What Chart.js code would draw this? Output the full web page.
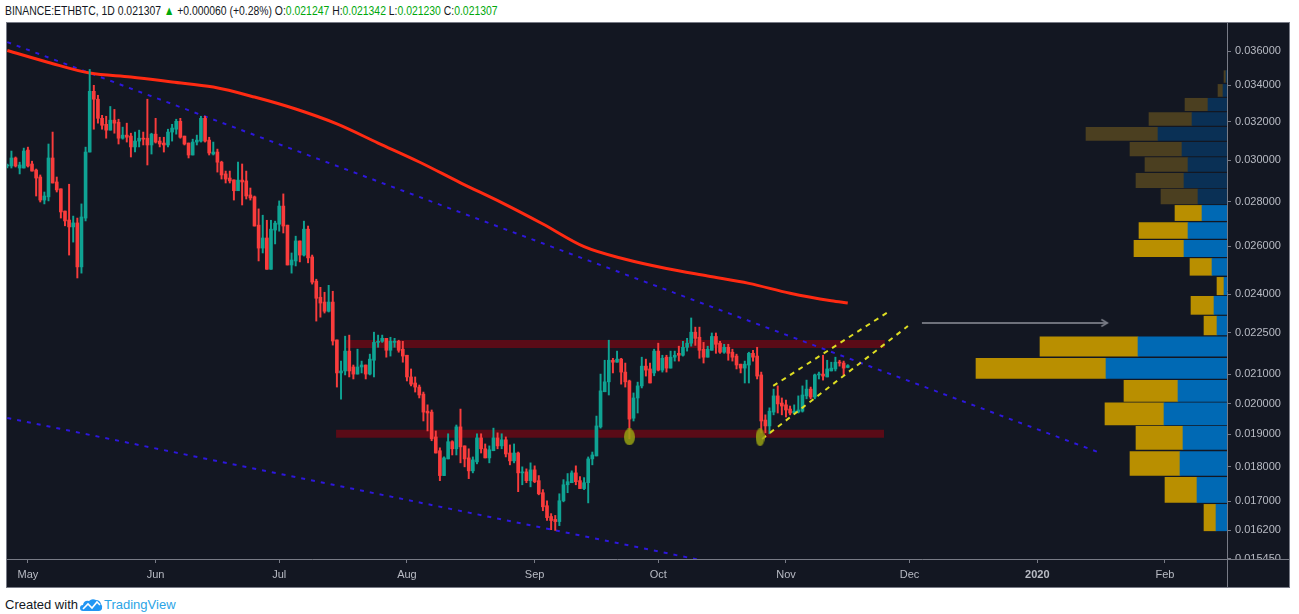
<!DOCTYPE html>
<html>
<head>
<meta charset="utf-8">
<title>BINANCE:ETHBTC 1D</title>
<script src="https://cdn.jsdelivr.net/npm/chart.js@4.4.1/dist/chart.umd.min.js"></script>
<style>
  body { margin: 0; width: 1299px; height: 614px; background: #fff; position: relative; overflow: hidden;
         font-family: "Liberation Sans", Arial, sans-serif; }
  #title { position: absolute; left: 5px; top: 2px; font-size: 13px; line-height: 17px; color: #131722; white-space: nowrap;
           transform: scaleX(0.8); transform-origin: 0 0; }
  #title .up { color: #00a80b; }
  #panel { position: absolute; left: 6px; top: 22px; width: 1284px; height: 566px; box-sizing: border-box;
           border: 1px solid #787b86; background: #131722; }
  #chart { position: absolute; left: 0; top: 0; }
  #corner { position: absolute; left: 1220px; top: 536px; width: 62px; height: 28px; box-sizing: border-box;
            border-top: 1px solid #787b86; border-left: 1px solid #787b86; background: #131722; }
  #footer { position: absolute; left: 5px; top: 596px; font-size: 13px; line-height: 17px; color: #131722; white-space: nowrap; }
  #footer svg { vertical-align: -3px; margin: 0 1px 0 2px; }
  #footer .tv { color: #2ba4e6; }
</style>
</head>
<body>
<div id="title">BINANCE:ETHBTC, 1D 0.021307 <span class="up">&#9650;</span> +0.000060 (+0.28%) O:<span class="up">0.021247</span> H:<span class="up">0.021342</span> L:<span class="up">0.021230</span> C:<span class="up">0.021307</span></div>
<div id="panel">
  <canvas id="chart" width="1282" height="564"></canvas>
  <div id="corner"></div>
</div>
<div id="footer">Created with<svg width="23" height="14" viewBox="0 0 23 14"><path d="M3 13 Q0 13 0 10 Q0 7 3 7 Q4 2 9 3 Q12 0 16 2 Q20 2 21 6 Q23 8 22 11 Q21 13 19 13 Z" fill="#2196f3"/><path d="M3 11 L8 6 L12 10 L17 4 L20 7" stroke="#fff" stroke-width="1.6" fill="none"/></svg><span class="tv">TradingView</span></div>
<script>
// daily candles, day 0 = 2019-04-26
const candleOpen = [
  .02972,.02972,.03012,.02962,.02962,.03052,.02982,.02952,.02918,.02808,
  .02823,.03012,.02894,.02861,.02757,.02716,.02685,.02703,.02512,.02725,
  .03042,.03366,.03322,.03218,.03186,.03155,.03208,.03197,.03113,.03129,
  .03124,.03068,.03098,.03113,.03113,.03078,.03134,.03098,.03088,.03078,
  .03145,.03160,.03202,.03124,.03088,.03027,.03093,.03098,.03218,.03103,
  .03032,.03042,.02991,.02933,.02913,.02904,.02852,.02903,.02899,.02832,
  .02823,.02693,.02592,.02636,.02502,.02671,.02697,.02780,.02693,.02520,
  .02537,.02623,.02562,.02675,.02554,.02453,.02388,.02369,.02333,.02369,
  .02224,.02105,.02112,.02183,.02126,.02101,.02126,.02133,.02101,.02150,
  .02215,.02219,.02230,.02186,.02215,.02219,.02190,.02168,.02091,.02070,
  .02056,.02032,.01975,.01972,.01892,.01849,.01774,.01824,.01877,.01855,
  .01924,.01864,.01827,.01788,.01815,.01889,.01855,.01827,.01849,.01889,
  .01864,.01883,.01842,.01818,.01842,.01782,.01785,.01759,.01791,.01759,
  .01724,.01687,.01657,.01649,.01643,.01701,.01747,.01753,.01782,.01759,
  .01736,.01753,.01824,.01833,.01924,.02040,.02074,.02150,.02143,.02154,
  .02108,.02077,.01952,.02019,.02060,.02129,.02119,.02105,.02183,.02115,
  .02161,.02122,.02161,.02175,.02168,.02197,.02212,.02253,.02234,.02190,
  .02161,.02186,.02237,.02212,.02179,.02197,.02179,.02165,.02136,.02122,
  .02133,.02175,.02165,.02098,.01946,.01927,.01972,.02026,.02002,.01996,
  .01982,.01969,.01972,.01975,.02026,.02049,.02022,.02098,.02101,.02091,
  .02112,.02119,.02143,.02140,.021247
];
const candleHigh = [
  .02982,.03047,.03017,.02991,.03062,.03067,.02996,.02957,.02928,.02846,
  .03083,.03145,.02918,.02861,.02757,.02883,.02734,.02725,.02790,.03067,
  .03491,.03400,.03344,.03234,.03229,.03282,.03266,.03213,.03171,.03192,
  .03139,.03145,.03155,.03145,.03322,.03139,.03218,.03118,.03118,.03160,
  .03186,.03213,.03218,.03124,.03088,.03108,.03129,.03229,.03229,.03118,
  .03093,.03057,.02996,.02947,.02947,.02904,.02991,.02982,.02947,.02865,
  .02827,.02767,.02738,.02715,.02715,.02711,.02804,.02837,.02693,.02571,
  .02644,.02623,.02711,.02689,.02562,.02461,.02428,.02408,.02436,.02412,
  .02224,.02147,.02238,.02242,.02133,.02190,.02147,.02133,.02172,.02253,
  .02242,.02242,.02230,.02234,.02230,.02223,.02219,.02168,.02119,.02091,
  .02063,.02039,.01996,.01979,.01911,.01858,.01830,.01902,.01880,.01930,
  .01982,.01864,.01855,.01830,.01902,.01902,.01870,.01864,.01920,.01905,
  .01902,.01892,.01867,.01870,.01845,.01800,.01794,.01812,.01803,.01774,
  .01733,.01701,.01665,.01660,.01721,.01762,.01780,.01788,.01803,.01771,
  .01768,.01830,.01845,.01959,.02101,.02150,.02223,.02157,.02183,.02157,
  .02140,.02080,.02036,.02073,.02161,.02154,.02140,.02190,.02212,.02168,
  .02168,.02183,.02183,.02201,.02219,.02230,.02307,.02272,.02272,.02215,
  .02201,.02250,.02250,.02219,.02208,.02208,.02190,.02172,.02136,.02147,
  .02179,.02186,.02197,.02108,.01963,.01986,.02049,.02060,.02019,.02012,
  .01992,.01996,.02026,.02060,.02080,.02056,.02101,.02108,.02168,.02150,
  .02143,.02161,.02150,.02147,.021342
];
const candleLow = [
  .02962,.02962,.02967,.02933,.02962,.02967,.02947,.02827,.02799,.02790,
  .02804,.02889,.02846,.02725,.02690,.02562,.02618,.02466,.02486,.02712,
  .03042,.03160,.03192,.03160,.03113,.03155,.03139,.03083,.03108,.03093,
  .03017,.03042,.03068,.03078,.02977,.03032,.03088,.03068,.03042,.03068,
  .03098,.03134,.03113,.03078,.03012,.03027,.03078,.03093,.03093,.03027,
  .03027,.02942,.02908,.02889,.02889,.02808,.02852,.02785,.02813,.02808,
  .02689,.02537,.02571,.02502,.02502,.02610,.02666,.02658,.02520,.02486,
  .02516,.02533,.02558,.02529,.02441,.02295,.02310,.02326,.02330,.02205,
  .02056,.02015,.02098,.02091,.02084,.02101,.02105,.02084,.02098,.02091,
  .02197,.02215,.02161,.02165,.02197,.02179,.02143,.02077,.02060,.02039,
  .02019,.01943,.01911,.01880,.01842,.01759,.01774,.01824,.01836,.01836,
  .01812,.01800,.01765,.01782,.01809,.01842,.01827,.01812,.01849,.01855,
  .01855,.01830,.01806,.01812,.01727,.01747,.01753,.01741,.01753,.01718,
  .01673,.01646,.01621,.01619,.01632,.01698,.01724,.01753,.01747,.01736,
  .01733,.01695,.01806,.01833,.01920,.02040,.02029,.02105,.02143,.02066,
  .02056,.01886,.01943,.01969,.02053,.02094,.02070,.02095,.02112,.02108,
  .02108,.02122,.02147,.02147,.02165,.02183,.02201,.02204,.02157,.02140,
  .02161,.02186,.02175,.02175,.02175,.02150,.02147,.02119,.02105,.02070,
  .02070,.02147,.02084,.01905,.01905,.01902,.01963,.01969,.01963,.01956,
  .01963,.01966,.01969,.01972,.02016,.02016,.02016,.02084,.02080,.02091,
  .02112,.02112,.02129,.02098,.021230
];
const candleClose = [
  .02977,.03012,.02972,.02977,.03047,.02972,.02947,.02913,.02808,.02827,
  .03012,.02889,.02856,.02753,.02712,.02685,.02703,.02512,.02730,.03042,
  .03366,.03322,.03218,.03181,.03155,.03208,.03192,.03113,.03129,.03118,
  .03068,.03098,.03113,.03108,.03078,.03134,.03093,.03083,.03078,.03145,
  .03166,.03202,.03118,.03083,.03027,.03093,.03103,.03218,.03098,.03037,
  .03042,.02991,.02928,.02908,.02899,.02852,.02903,.02894,.02827,.02818,
  .02689,.02592,.02636,.02502,.02675,.02702,.02780,.02689,.02520,.02541,
  .02623,.02562,.02675,.02550,.02449,.02384,.02365,.02333,.02369,.02220,
  .02105,.02112,.02183,.02112,.02101,.02126,.02133,.02101,.02154,.02215,
  .02219,.02230,.02186,.02219,.02219,.02186,.02165,.02091,.02066,.02056,
  .02029,.01972,.01969,.01886,.01842,.01774,.01827,.01877,.01855,.01924,
  .01861,.01824,.01788,.01821,.01889,.01855,.01827,.01852,.01889,.01864,
  .01883,.01839,.01818,.01842,.01782,.01785,.01759,.01791,.01756,.01721,
  .01684,.01654,.01646,.01643,.01701,.01747,.01756,.01782,.01756,.01736,
  .01753,.01824,.01836,.01927,.02043,.02074,.02150,.02143,.02154,.02108,
  .02074,.01949,.02019,.02060,.02129,.02115,.02070,.02183,.02115,.02157,
  .02122,.02161,.02168,.02168,.02197,.02212,.02253,.02230,.02186,.02161,
  .02190,.02237,.02208,.02179,.02197,.02175,.02161,.02133,.02122,.02136,
  .02175,.02161,.02094,.01943,.01927,.01975,.02026,.01999,.01992,.01979,
  .01969,.01975,.01979,.02029,.02049,.02022,.02098,.02101,.02094,.02119,
  .02122,.02143,.02140,.02122,.021307
];

// 200 day moving average, read every 10 days
const maDays   = [0, 10, 20, 30, 40, 50, 60, 70, 80, 90, 100, 110, 120, 130, 140, 150, 160, 170, 180, 190, 200, 204];
const maValues = [.03603,.03532,.03470,.03447,.03419,.03390,.03334,.03268,.03188,.03088,.02992,
                  .02890,.02796,.02698,.02598,.02544,.02505,.02474,.02444,.02404,.02374,.02365];

// drawings
const upperTrendDays = [0, 264.7], upperTrendPrices = [.03654, .01845];
const lowerTrendDays = [0, 168.1], lowerTrendPrices = [.019527, .015412];
const resistanceDays = [82, 213], resistancePrice = .02209;
const supportDays = [79.8, 212.8], supportPrice = .01902;
const channelTopDays = [185.9, 213.8], channelTopPrices = [.02060, .02330];
const channelBotDays = [183.2, 218.6], channelBotPrices = [.018856, .02276];
const touchDays = [151, 182.7], touchPrices = [.018919, .01891];
const arrowDays = [222, 267], arrowPrice = .02288;

// volume profile (low to high), rows are equal price bins
const profilePrices = [.01654,.01732,.01810,.01889,.01966,.02043,.02121,.02200,.02278,.02356,.02433,.02512,
                       .02590,.02669,.02748,.02825,.02901,.02980,.03057,.03135,.03214,.03293,.03371,.03450];
const upVolume   = [550,1500,2350,2200,3150,2450,6050,4450,500,650,150,750,
                    2150,1950,1250,1450,2150,1950,2250,3450,1750,950,200,50];
const downVolume = [600,1600,2500,2350,2950,2700,6500,4900,650,1150,350,1100,
                    2500,2450,1350,1850,2400,2150,2600,3600,2150,1150,250,100];
const binHalfWidth = 0.000389;
const valueAreaHigh = .0280;

// axes
const yTicks = [.01545, .0162, .017, .018, .019, .020, .021, .0225, .024, .026, .028, .030, .032, .034, .036];
const priceMin = 0.015437, priceMax = 0.037720;
const monthDays = [5, 36, 66, 97, 128, 158, 189, 219, 250, 281];
const monthLabels = ['May', 'Jun', 'Jul', 'Aug', 'Sep', 'Oct', 'Nov', 'Dec', '2020', 'Feb'];

const upColor = '#0fa393';
const downColor = '#f93c3c';
const axisColor = '#787b86';
const labelColor = '#b8bbc4';
const fontFamily = '"Liberation Sans", Arial, sans-serif';

const candleColor = c => candleClose[c.dataIndex] >= candleOpen[c.dataIndex] ? upColor : downColor;

function ellipseSprite(w, h) {
  const c = document.createElement('canvas');
  c.width = w; c.height = h;
  const g = c.getContext('2d');
  g.fillStyle = 'rgba(150, 160, 18, 0.85)';
  g.beginPath();
  g.ellipse(w / 2, h / 2, w / 2, h / 2, 0, 0, Math.PI * 2);
  g.fill();
  return c;
}

function arrowSprite() {
  const c = document.createElement('canvas');
  c.width = 16; c.height = 10;
  const g = c.getContext('2d');
  g.strokeStyle = '#7c7f89';
  g.lineWidth = 1.5;
  g.beginPath();
  g.moveTo(2, 1.5); g.lineTo(8, 5); g.lineTo(2, 8.5);
  g.stroke();
  return c;
}

const touchMarks = [ellipseSprite(11, 17), ellipseSprite(9, 18)];
const arrowHead = arrowSprite();

function hline(days, price) {
  return days.map(d => ({ x: d, y: price }));
}
function segment(days, prices) {
  return days.map((d, i) => ({ x: d, y: prices[i] }));
}

const lineBase = { type: 'line', pointRadius: 0, fill: false, xAxisID: 'x', yAxisID: 'y' };
const candleBase = { type: 'bar', xAxisID: 'x', yAxisID: 'y', grouped: false };
// one horizontal floating bar per profile row; its thickness is set from the price scale below
const profileBase = { type: 'bar', indexAxis: 'y', xAxisID: 'vol', yAxisID: 'y', grouped: false, barThickness: 10, order: 8 };

const profileSets = [];
profilePrices.forEach((p, row) => {
  const dim = p > valueAreaHigh;
  profileSets.push({ ...profileBase, profileRow: row, data: [{ y: p, x: [0, upVolume[row]] }],
                     backgroundColor: dim ? '#0a3055' : '#0069b4' });
  profileSets.push({ ...profileBase, profileRow: row, data: [{ y: p, x: [upVolume[row], upVolume[row] + downVolume[row]] }],
                     backgroundColor: dim ? '#4b3f20' : '#b98f00' });
});

const datasets = [
  { ...lineBase, data: hline(resistanceDays, resistancePrice), borderColor: '#5a0b17', borderWidth: 8, borderCapStyle: 'butt', order: 9 },
  { ...lineBase, data: hline(supportDays, supportPrice), borderColor: '#5a0b17', borderWidth: 8, borderCapStyle: 'butt', order: 9 },
  ...profileSets,
  { ...lineBase, data: segment(upperTrendDays, upperTrendPrices), borderColor: '#2d17dc', borderWidth: 2, borderDash: [4, 6], order: 7 },
  { ...lineBase, data: segment(lowerTrendDays, lowerTrendPrices), borderColor: '#2d17dc', borderWidth: 2, borderDash: [4, 6], order: 7 },
  { ...lineBase, data: segment(maDays, maValues), borderColor: '#ff2a12', borderWidth: 3, cubicInterpolationMode: 'monotone', order: 6 },
  {
    ...candleBase,
    data: candleLow.map((l, i) => ({ x: i, y: [l, candleHigh[i]] })),
    backgroundColor: candleColor, barThickness: 1.3, order: 5
  },
  {
    ...candleBase,
    data: candleOpen.map((o, i) => ({ x: i, y: [o, candleClose[i]] })),
    backgroundColor: candleColor, barThickness: 3, minBarLength: 1, order: 4
  },
  { ...lineBase, data: segment(channelTopDays, channelTopPrices), borderColor: '#dede22', borderWidth: 2, borderDash: [5, 5], order: 3 },
  { ...lineBase, data: segment(channelBotDays, channelBotPrices), borderColor: '#dede22', borderWidth: 2, borderDash: [5, 5], order: 3 },
  { ...lineBase, showLine: false, data: segment(touchDays, touchPrices), pointStyle: touchMarks, pointRadius: 6, order: 2 },
  {
    ...lineBase, data: hline(arrowDays, arrowPrice), borderColor: '#6e717b', borderWidth: 2,
    pointStyle: arrowHead, pointRadius: c => c.dataIndex === 1 ? 5 : 0, order: 1
  }
];

const chart = new Chart(document.getElementById('chart'), {
  type: 'bar',
  data: { datasets },
  options: {
    responsive: false,
    animation: false,
    events: [],
    layout: { padding: 0, autoPadding: false },
    plugins: { legend: { display: false }, tooltip: { enabled: false } },
    scales: {
      x: {
        type: 'linear', position: 'bottom', min: -0.073, max: 296.05, offset: false,
        grid: { drawOnChartArea: false, drawTicks: true, tickLength: 4, color: axisColor, offset: false },
        border: { display: true, color: axisColor },
        ticks: {
          autoSkip: false, maxRotation: 0, padding: 5, color: labelColor,
          font: c => ({ family: fontFamily, size: 11, weight: c.tick && monthLabels[monthDays.indexOf(c.tick.value)] === '2020' ? 'bold' : 'normal' }),
          callback: v => monthLabels[monthDays.indexOf(v)]
        },
        afterBuildTicks: s => { s.ticks = monthDays.map(v => ({ value: v })); },
        afterFit: s => { s.height = 28; s.paddingLeft = 0; s.paddingRight = 0; }
      },
      y: {
        type: 'logarithmic', position: 'right', min: priceMin, max: priceMax, bounds: 'data', offset: false, stacked: false,
        grid: { drawOnChartArea: false, drawTicks: true, tickLength: 4, color: axisColor, offset: false },
        border: { display: true, color: axisColor },
        ticks: {
          autoSkip: false, padding: 4, color: labelColor, font: { family: fontFamily, size: 11 },
          callback: v => Number(v).toFixed(6)
        },
        afterBuildTicks: s => { s.ticks = yTicks.map(v => ({ value: v })); },
        afterFit: s => { s.width = 62; s.paddingTop = 0; s.paddingBottom = 0; }
      },
      vol: { type: 'linear', axis: 'x', display: false, reverse: true, offset: false, stacked: false, min: 0, max: 61000 }
    }
  }
});

// each profile row spans its price bin on the y scale, leaving a thin gap between rows
const yScale = chart.scales.y;
chart.data.datasets.forEach(ds => {
  if (ds.profileRow === undefined) return;
  const p = profilePrices[ds.profileRow];
  const span = Math.abs(yScale.getPixelForValue(p - binHalfWidth) - yScale.getPixelForValue(p + binHalfWidth));
  ds.barThickness = Math.max(span - 1.8, 1);
});
chart.update('none');
</script>
</body>
</html>
